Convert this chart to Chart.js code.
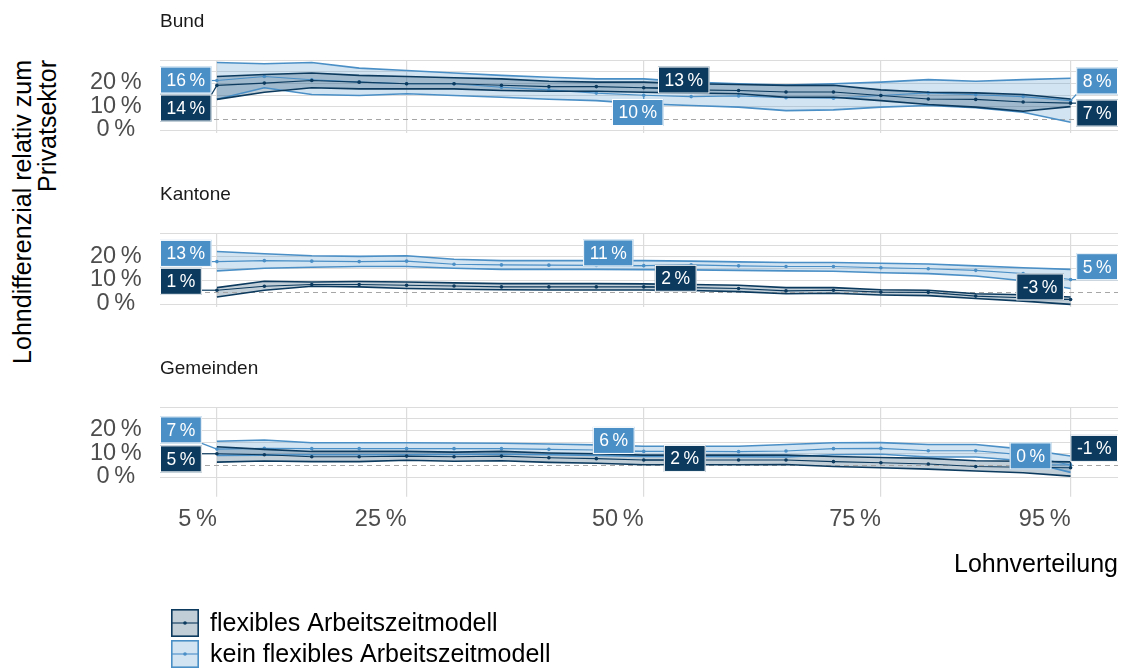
<!DOCTYPE html>
<html lang="de">
<head>
<meta charset="utf-8">
<title>Lohndifferenzial relativ zum Privatsektor</title>
<script src="https://cdn.jsdelivr.net/npm/chart.js@4.4.1/dist/chart.umd.min.js"></script>
<style>
  body { margin: 0; background: #fff; width: 1127px; height: 670px; position: relative; overflow: hidden;
         font-family: "Liberation Sans", Arial, sans-serif; }
  canvas { position: absolute; left: 0; }
  #ytitle { position: absolute; left: 9.5px; top: 460px; width: 400px; transform-origin: 0 0;
            transform: rotate(-90deg); text-align: right; font-size: 25px; line-height: 25px;
            color: #000; white-space: nowrap; }
</style>
</head>
<body>
<div id="ytitle">Lohndifferenzial relativ zum<br>Privatsektor</div>
<canvas id="bund" width="1127" height="140" style="top:0px"></canvas>
<canvas id="kantone" width="1127" height="141" style="top:173px"></canvas>
<canvas id="gemeinden" width="1127" height="323" style="top:347px"></canvas>
<script>
// x = Perzentil der Lohnverteilung, y = Lohndifferenzial in %
const percentiles = [5, 10, 15, 20, 25, 30, 35, 40, 45, 50, 55, 60, 65, 70, 75, 80, 85, 90, 95];
const xTicks = [5, 25, 50, 75, 95];
const yTicks = [-5, 0, 5, 10, 15, 20, 25];
const seriesNames = ["flexibles Arbeitszeitmodell", "kein flexibles Arbeitszeitmodell"];
const panelTitles = ["Bund", "Kantone", "Gemeinden"];

// Bund
const bundFlex   = [14.2, 15.2, 16.3, 15.6, 14.9, 14.9, 14.3, 13.7, 13.7, 13.2, 12.3, 12.0, 11.4, 11.4, 9.9, 8.4, 8.2, 7.1, 6.6];
const bundFlexHi = [18.0, 18.9, 19.5, 18.5, 18.0, 17.5, 17.0, 16.0, 15.6, 15.6, 14.9, 14.6, 14.2, 14.3, 12.3, 11.3, 11.0, 10.3, 8.4];
const bundFlexLo = [8.2, 11.3, 13.2, 12.7, 12.7, 12.7, 12.0, 11.7, 11.7, 11.3, 10.9, 10.6, 9.1, 9.1, 7.7, 6.0, 4.9, 3.1, 5.1];
const bundKein   = [16.3, 18.0, 16.6, 15.6, 14.9, 14.9, 13.4, 12.3, 10.9, 10.0, 9.4, 9.7, 8.9, 8.7, 9.9, 11.0, 10.2, 9.4, 7.7];
const bundKeinHi = [24.0, 23.5, 24.0, 21.6, 20.6, 19.5, 18.5, 17.7, 17.0, 17.0, 15.6, 14.9, 14.4, 14.9, 15.6, 16.7, 16.0, 16.7, 17.3];
const bundKeinLo = [8.3, 13.2, 10.3, 9.9, 10.6, 9.9, 9.1, 8.3, 7.7, 6.3, 5.6, 4.9, 3.4, 3.7, 4.9, 5.6, 4.6, 2.7, -1.6];

// Kantone
const kantFlex   = [0.9, 2.6, 3.3, 3.3, 3.0, 2.7, 2.3, 2.3, 2.3, 2.3, 2.0, 1.6, 0.6, 0.9, 0.1, 0.0, -1.6, -2.3, -3.0];
const kantFlexHi = [2.0, 4.7, 4.4, 4.6, 4.4, 4.0, 3.7, 3.7, 3.7, 3.6, 3.3, 3.0, 2.0, 2.0, 1.1, 0.9, -0.6, -1.0, -2.0];
const kantFlexLo = [-2.0, 0.9, 2.6, 2.3, 1.6, 1.3, 1.1, 1.0, 1.0, 1.0, 0.8, 0.3, -0.6, -0.4, -1.1, -1.4, -2.6, -3.7, -5.1];
const kantKein   = [13.0, 13.4, 13.2, 13.0, 13.2, 11.9, 11.6, 11.5, 11.4, 11.3, 11.6, 11.2, 10.9, 10.9, 10.4, 10.0, 9.3, 8.0, 5.4];
const kantKeinHi = [17.3, 16.3, 15.5, 15.2, 15.5, 14.0, 13.4, 13.4, 13.4, 13.4, 13.2, 12.9, 12.6, 12.6, 12.3, 12.0, 11.2, 10.4, 9.7];
const kantKeinLo = [9.1, 10.2, 10.6, 10.9, 10.9, 10.2, 9.7, 9.7, 9.7, 9.6, 9.5, 9.3, 9.1, 8.9, 8.3, 7.9, 6.9, 4.9, 1.6];

// Gemeinden
const gemFlex   = [5.0, 4.6, 3.7, 3.7, 4.0, 3.7, 4.0, 3.3, 2.9, 2.3, 2.3, 2.3, 2.3, 1.6, 1.1, 0.6, -0.5, -0.8, -1.0];
const gemFlexHi = [8.0, 6.9, 6.0, 6.0, 6.0, 5.7, 6.0, 5.3, 5.0, 4.4, 4.4, 4.4, 4.4, 3.8, 3.4, 3.0, 2.0, 1.8, 1.5];
const gemFlexLo = [1.4, 1.9, 1.6, 1.6, 2.2, 1.8, 2.0, 1.3, 0.9, 0.3, 0.3, 0.3, 0.4, -0.5, -1.0, -1.6, -2.4, -3.2, -4.6];
const gemKein   = [7.0, 7.3, 7.2, 7.2, 7.2, 7.2, 7.2, 6.9, 6.6, 6.0, 6.0, 5.9, 6.2, 7.2, 7.3, 6.3, 6.3, 4.5, 0.2];
const gemKeinHi = [10.4, 10.9, 9.7, 9.7, 9.7, 9.6, 9.5, 9.2, 8.8, 8.2, 8.2, 8.2, 9.0, 9.7, 9.8, 9.0, 9.0, 7.0, 4.0];
const gemKeinLo = [4.3, 4.4, 4.6, 4.6, 4.6, 4.7, 4.8, 4.6, 4.3, 3.8, 3.8, 3.7, 3.6, 4.6, 4.8, 3.6, 3.6, 2.0, -3.0];

const DARK = "#0b3a5e";
const LIGHT = "#4a8fc6";
const DARK_FILL = "rgba(11,58,94,0.25)";
const LIGHT_FILL = "rgba(74,143,198,0.25)";
const GRID = "#dcdcdc";
const FONT = '"Liberation Sans", Arial, sans-serif';

Chart.defaults.font.family = FONT;

const toPoints = (arr) => arr.map((v, i) => ({ x: percentiles[i], y: v }));

function makeDatasets(kein, keinLo, keinHi, flex, flexLo, flexHi) {
	const edge = (arr, color, order, fill) => ({
		data: toPoints(arr), borderColor: color, borderWidth: 1.6, pointRadius: 0,
		order: order, fill: fill ? "-1" : false, backgroundColor: fill || "transparent",
	});
	const mean = (label, arr, color, order) => ({
		label: label, data: toPoints(arr), borderColor: color, borderWidth: 1.1,
		pointRadius: 1.8, pointBorderWidth: 0, pointBackgroundColor: color, order: order, fill: false,
	});
	return [
		edge(keinHi, LIGHT, 2, null),
		edge(keinLo, LIGHT, 2, LIGHT_FILL),
		mean(seriesNames[1], kein, LIGHT, 2),
		edge(flexHi, DARK, 1, null),
		edge(flexLo, DARK, 1, DARK_FILL),
		mean(seriesNames[0], flex, DARK, 1),
	];
}

// dashed reference line at 0 %
const zeroLine = {
	id: "zeroLine",
	beforeDatasetsDraw(chart) {
		const { ctx, chartArea, scales } = chart;
		const y = Math.round(scales.y.getPixelForValue(0)) + 0.5;
		ctx.save();
		ctx.strokeStyle = "#a6a6a6";
		ctx.lineWidth = 1;
		ctx.setLineDash([5, 4]);
		ctx.beginPath();
		ctx.moveTo(chartArea.left, y);
		ctx.lineTo(chartArea.right, y);
		ctx.stroke();
		ctx.restore();
	},
};

// boxed value labels (rounded mean values)
const boxLabels = {
	id: "boxLabels",
	afterDatasetsDraw(chart, args, opts) {
		const { ctx, chartArea, scales } = chart;
		ctx.save();
		ctx.font = "17.5px " + FONT;
		ctx.textAlign = "center";
		ctx.textBaseline = "middle";
		(opts.items || []).forEach((it) => {
			const ds = chart.data.datasets[it.s === "flex" ? 5 : 2];
			const pt = ds.data[it.i];
			const px = scales.x.getPixelForValue(pt.x);
			const py = scales.y.getPixelForValue(pt.y);
			const text = Math.round(pt.y) + "\u2009%";
			const w = ctx.measureText(text).width + 13;
			const h = 27;
			let bx;
			if (it.at === "left") bx = chartArea.left;
			else if (it.at === "right") bx = chartArea.right - w;
			else bx = px + it.dx - w / 2;
			const by = py + it.dy - h / 2;
			const color = it.s === "flex" ? DARK : LIGHT;

			const cx = Math.min(Math.max(px, bx), bx + w);
			const cy = Math.min(Math.max(py, by), by + h);
			if (Math.hypot(cx - px, cy - py) > 3) {
				ctx.strokeStyle = color;
				ctx.lineWidth = 1.2;
				ctx.beginPath();
				ctx.moveTo(px, py);
				ctx.lineTo(cx, cy);
				ctx.stroke();
			}
			ctx.fillStyle = color;
			ctx.fillRect(bx, by, w, h);
			ctx.strokeStyle = "#fff";
			ctx.lineWidth = 1;
			ctx.strokeRect(bx + 0.5, by + 0.5, w - 1, h - 1);
			ctx.fillStyle = "#fff";
			ctx.fillText(text, bx + w / 2, by + h / 2 + 1);
		});
		ctx.restore();
	},
};

// legend below the last panel
const boxLegend = {
	id: "boxLegend",
	afterDraw(chart, args, opts) {
		if (!opts.show) return;
		const { ctx } = chart;
		const items = [
			{ name: seriesNames[0], line: DARK, fill: DARK_FILL },
			{ name: seriesNames[1], line: LIGHT, fill: LIGHT_FILL },
		];
		ctx.save();
		items.forEach((it, k) => {
			const x0 = 171, y0 = opts.top + k * 31, s = 28;
			ctx.fillStyle = "#fff";
			ctx.fillRect(x0, y0, s, s);
			ctx.fillStyle = it.fill;
			ctx.fillRect(x0, y0, s, s);
			ctx.strokeStyle = it.line;
			ctx.lineWidth = 1.6;
			ctx.strokeRect(x0 + 0.8, y0 + 0.8, s - 1.6, s - 1.6);
			ctx.lineWidth = 1.1;
			ctx.beginPath();
			ctx.moveTo(x0 + 1, y0 + s / 2);
			ctx.lineTo(x0 + s - 1, y0 + s / 2);
			ctx.stroke();
			ctx.fillStyle = it.line;
			ctx.beginPath();
			ctx.arc(x0 + s / 2, y0 + s / 2, 1.8, 0, Math.PI * 2);
			ctx.fill();
			ctx.fillStyle = "#000";
			ctx.font = "25px " + FONT;
			ctx.textAlign = "left";
			ctx.textBaseline = "middle";
			ctx.fillText(it.name, 210, y0 + s / 2 + 1);
		});
		ctx.restore();
	},
};

const panels = [
	{
		id: "bund", title: panelTitles[0],
		data: [bundKein, bundKeinLo, bundKeinHi, bundFlex, bundFlexLo, bundFlexHi],
		labels: [
			{ s: "kein", i: 0, at: "left", dy: -0.5 },
			{ s: "flex", i: 0, at: "left", dy: 22.6 },
			{ s: "flex", i: 9, at: "point", dx: 40, dy: -7.7 },
			{ s: "kein", i: 9, at: "point", dx: -6, dy: 17.3 },
			{ s: "kein", i: 18, at: "right", dy: -19.6 },
			{ s: "flex", i: 18, at: "right", dy: 9.9 },
		],
	},
	{
		id: "kantone", title: panelTitles[1],
		data: [kantKein, kantKeinLo, kantKeinHi, kantFlex, kantFlexLo, kantFlexHi],
		labels: [
			{ s: "kein", i: 0, at: "left", dy: -8.2 },
			{ s: "flex", i: 0, at: "left", dy: -8.9 },
			{ s: "kein", i: 9, at: "point", dx: -35.5, dy: -12.7 },
			{ s: "flex", i: 9, at: "point", dx: 32, dy: -8.6 },
			{ s: "kein", i: 18, at: "right", dy: -12.9 },
			{ s: "flex", i: 18, at: "point", dx: -30.5, dy: -12.5 },
		],
	},
	{
		id: "gemeinden", title: panelTitles[2],
		data: [gemKein, gemKeinLo, gemKeinHi, gemFlex, gemFlexLo, gemFlexHi],
		labels: [
			{ s: "kein", i: 0, at: "left", dy: -19.2 },
			{ s: "flex", i: 0, at: "left", dy: 5.1 },
			{ s: "kein", i: 9, at: "point", dx: -30, dy: -11 },
			{ s: "flex", i: 9, at: "point", dx: 41, dy: -1.6 },
			{ s: "kein", i: 18, at: "point", dx: -40, dy: -9 },
			{ s: "flex", i: 18, at: "right", dy: -19.3 },
		],
	},
];

panels.forEach((p, idx) => {
	const isLast = idx === panels.length - 1;
	new Chart(document.getElementById(p.id), {
		type: "line",
		data: { datasets: makeDatasets(...p.data) },
		options: {
			responsive: false,
			animation: false,
			devicePixelRatio: 1,
			layout: { padding: { left: 0, right: 9, top: 0, bottom: isLast ? 86 : 7 } },
			plugins: {
				legend: { display: false },
				tooltip: { enabled: false },
				filler: { drawTime: "beforeDatasetsDraw" },
				title: {
					display: true, text: p.title, align: "start", fullSize: false,
					color: "#1a1a1a", font: { size: 19, weight: "normal" },
					padding: { top: 10.6, bottom: 26.6 },
				},
				boxLabels: { items: p.labels },
				boxLegend: { show: isLast, top: 262 },
			},
			scales: {
				x: {
					type: "linear", min: -1, max: 100,
					afterBuildTicks: (s) => { s.ticks = xTicks.map((v) => ({ value: v })); },
					grid: { color: GRID, lineWidth: 1.2, drawTicks: isLast, tickLength: 17, tickColor: GRID },
					border: { display: false },
					ticks: {
						display: isLast, autoSkip: false, maxRotation: 0, align: "end", padding: 9,
						color: "#4d4d4d", font: { size: 23.5 },
						callback: (v) => v + "\u2009%",
					},
					title: {
						display: isLast, text: "Lohnverteilung", align: "end", color: "#000",
						font: { size: 25 }, padding: { top: 7, bottom: 4 },
					},
				},
				y: {
					min: -6.2, max: 25.1,
					afterBuildTicks: (s) => { s.ticks = yTicks.map((v) => ({ value: v })); },
					afterFit: (s) => { s.width = 160; s.paddingTop = 0; s.paddingBottom = 0; },
					grid: {
						color: (c) => (c.tick && c.tick.value === 0 ? "rgba(0,0,0,0)" : GRID),
						lineWidth: 1, drawTicks: false,
					},
					border: { display: false },
					ticks: {
						autoSkip: false, crossAlign: "center", padding: 18.3, labelOffset: 11,
						color: "#4d4d4d", font: { size: 23.5 },
						callback: (v) => (v % 10 === 0 ? v + "\u2009%" : ""),
					},
				},
			},
		},
		plugins: [zeroLine, boxLabels, boxLegend],
	});
});
</script>
</body>
</html>
